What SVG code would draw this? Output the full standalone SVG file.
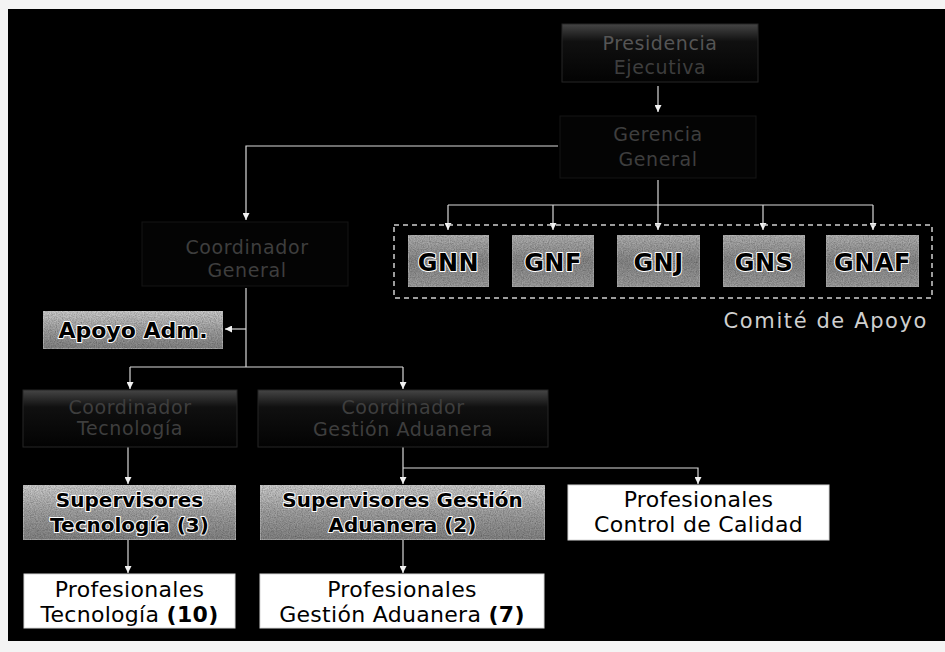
<svg xmlns="http://www.w3.org/2000/svg" width="945" height="652" viewBox="0 0 945 652">
<defs>
<linearGradient id="gDark" x1="0" y1="0" x2="0" y2="1">
<stop offset="0" stop-color="#454545"/>
<stop offset="0.3" stop-color="#101010"/>
<stop offset="1" stop-color="#030303"/>
</linearGradient>
<linearGradient id="gGray" x1="0" y1="0" x2="0" y2="1">
<stop offset="0" stop-color="#d0d0d0"/>
<stop offset="0.5" stop-color="#a4a4a4"/>
<stop offset="1" stop-color="#858585"/>
</linearGradient>
<linearGradient id="gGN" x1="0" y1="0" x2="0" y2="1">
<stop offset="0" stop-color="#b4b4b4"/>
<stop offset="0.5" stop-color="#8a8a8a"/>
<stop offset="1" stop-color="#a0a0a0"/>
</linearGradient>
<filter id="grain" x="0" y="0" width="1" height="1">
<feTurbulence type="fractalNoise" baseFrequency="0.85" numOctaves="2" seed="4" result="n"/>
<feColorMatrix in="n" type="matrix" values="0 0 0 0 0  0 0 0 0 0  0 0 0 0 0  0 0 0 0.9 -0.25" result="na"/>
<feComposite in="na" in2="SourceGraphic" operator="in" result="nc"/>
<feMerge><feMergeNode in="SourceGraphic"/><feMergeNode in="nc"/></feMerge>
</filter>
<marker id="arr" viewBox="0 0 10 10" refX="10" refY="5" markerWidth="7" markerHeight="7" orient="auto" markerUnits="userSpaceOnUse">
<path d="M0,0 L10,5 L0,10 z" fill="#f2f2f2"/>
</marker>
<style>
text{font-family:"DejaVu Sans","Liberation Sans",sans-serif;text-anchor:middle}
.dark{fill:url(#gDark);stroke:#262626;stroke-width:1}
.dark2{fill:#040404;stroke:#141414;stroke-width:1}
.dtxt{fill:#3e3e3e;font-size:19px;letter-spacing:0.6px}
.gray{fill:url(#gGray);stroke:#cfcfcf;stroke-width:1;filter:url(#grain)}
.gn{fill:url(#gGN);stroke:#bdbdbd;stroke-width:1;filter:url(#grain)}
.white{fill:#ffffff;stroke:#d8d8d8;stroke-width:1}
.btxt{fill:#000;font-size:22px;letter-spacing:0.3px}
.stxt{font-size:20px;font-weight:bold}
.halo{fill:#000;stroke:#ffffff;stroke-width:2;paint-order:stroke;stroke-linejoin:round}
.gntxt{font-size:24px;font-weight:bold;letter-spacing:0.5px}
.con{fill:none;stroke:#d9d9d9;stroke-width:1.2}
</style>
</defs>
<rect x="0" y="0" width="945" height="652" fill="#f4f4f4"/>
<rect x="8" y="9" width="937" height="632" fill="#000"/>

<g id="connectors">
<path class="con" d="M658,86 V112" marker-end="url(#arr)"/>
<path class="con" d="M558,146 H246 V220" marker-end="url(#arr)"/>
<path class="con" d="M658,180 V230" marker-end="url(#arr)"/>
<path class="con" d="M448,205 H873"/>
<path class="con" d="M448,205 V230" marker-end="url(#arr)"/>
<path class="con" d="M553,205 V230" marker-end="url(#arr)"/>
<path class="con" d="M763,205 V230" marker-end="url(#arr)"/>
<path class="con" d="M873,205 V230" marker-end="url(#arr)"/>
<path class="con" d="M246,288 V367"/>
<path class="con" d="M246,329 H225" marker-end="url(#arr)"/>
<path class="con" d="M130,367 H403"/>
<path class="con" d="M130,367 V389" marker-end="url(#arr)"/>
<path class="con" d="M403,367 V389" marker-end="url(#arr)"/>
<path class="con" d="M128,447 V484" marker-end="url(#arr)"/>
<path class="con" d="M403,447 V484" marker-end="url(#arr)"/>
<path class="con" d="M403,468 H698 V484" marker-end="url(#arr)"/>
<path class="con" d="M128,540 V573" marker-end="url(#arr)"/>
<path class="con" d="M403,540 V573" marker-end="url(#arr)"/>
</g>

<g id="presidencia">
<rect class="dark" x="562" y="24" width="196" height="58"/>
<text class="dtxt" x="660" y="50" style="fill:#555">Presidencia</text>
<text class="dtxt" x="660" y="74">Ejecutiva</text>
</g>
<g id="gerencia">
<rect class="dark2" x="560" y="116" width="196" height="62"/>
<text class="dtxt" x="658" y="141">Gerencia</text>
<text class="dtxt" x="658" y="166">General</text>
</g>
<g id="coord-general">
<rect class="dark2" x="142" y="222" width="206" height="64"/>
<text class="dtxt" x="247" y="254">Coordinador</text>
<text class="dtxt" x="247" y="277">General</text>
</g>

<g id="comite">
<rect x="394" y="225" width="538" height="73" fill="none" stroke="#d0d0d0" stroke-width="1.5" stroke-dasharray="5 4"/>
<text x="928" y="328" style="text-anchor:end;fill:#cfcfcf;font-size:21px;letter-spacing:1.6px">Comité de Apoyo</text>
</g>
<g id="gnn">
<rect class="gn" x="408" y="235" width="81" height="52"/>
<text class="halo gntxt" x="448.5" y="271">GNN</text>
</g>
<g id="gnf">
<rect class="gn" x="512" y="235" width="82" height="52"/>
<text class="halo gntxt" x="553" y="271">GNF</text>
</g>
<g id="gnj">
<rect class="gn" x="617" y="235" width="83" height="52"/>
<text class="halo gntxt" x="658.5" y="271">GNJ</text>
</g>
<g id="gns">
<rect class="gn" x="723" y="235" width="82" height="52"/>
<text class="halo gntxt" x="764" y="271">GNS</text>
</g>
<g id="gnaf">
<rect class="gn" x="826" y="235" width="93" height="52"/>
<text class="halo gntxt" x="872.5" y="271">GNAF</text>
</g>

<g id="apoyo-adm">
<rect class="gray" x="43" y="311" width="180" height="38"/>
<text class="halo" x="133" y="338" style="font-size:22px;font-weight:bold">Apoyo Adm.</text>
</g>

<g id="coord-tecnologia">
<rect class="dark" x="23" y="390" width="214" height="57"/>
<text class="dtxt" x="130" y="414">Coordinador</text>
<text class="dtxt" x="130" y="435">Tecnología</text>
</g>
<g id="coord-gestion">
<rect class="dark" x="258" y="390" width="290" height="57"/>
<text class="dtxt" x="403" y="414">Coordinador</text>
<text class="dtxt" x="403" y="436">Gestión Aduanera</text>
</g>

<g id="sup-tecnologia">
<rect class="gray" x="23" y="485" width="213" height="55"/>
<text class="stxt halo" x="129.5" y="507">Supervisores</text>
<text class="stxt halo" x="129.5" y="532">Tecnología (3)</text>
</g>
<g id="sup-gestion">
<rect class="gray" x="260" y="485" width="285" height="55"/>
<text class="stxt halo" x="402.5" y="507">Supervisores Gestión</text>
<text class="stxt halo" x="402.5" y="532">Aduanera (2)</text>
</g>
<g id="prof-calidad">
<rect class="white" x="568" y="485" width="261" height="55"/>
<text class="btxt" x="698.5" y="507">Profesionales</text>
<text class="btxt" x="698.5" y="532">Control de Calidad</text>
</g>
<g id="prof-tecnologia">
<rect class="white" x="24" y="574" width="211" height="54"/>
<text class="btxt" x="129.5" y="597">Profesionales</text>
<text class="btxt" x="129.5" y="622">Tecnología <tspan font-weight="bold">(10)</tspan></text>
</g>
<g id="prof-gestion">
<rect class="white" x="260" y="574" width="284" height="54"/>
<text class="btxt" x="402" y="597">Profesionales</text>
<text class="btxt" x="402" y="622">Gestión Aduanera <tspan font-weight="bold">(7)</tspan></text>
</g>
</svg>
